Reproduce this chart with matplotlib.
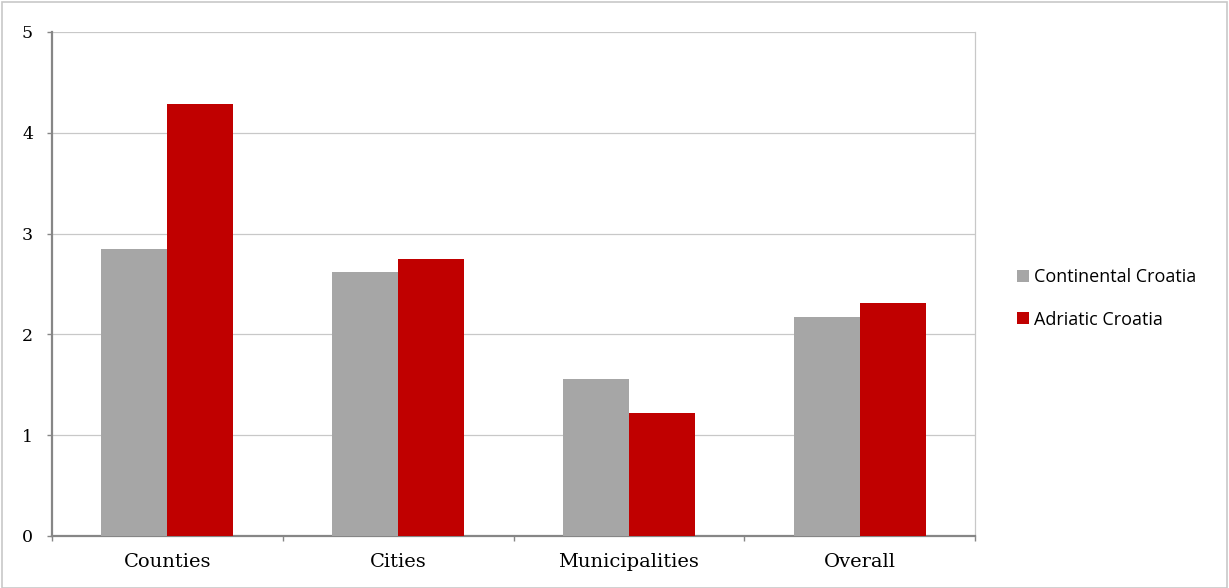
import matplotlib
matplotlib.use("Agg")
import matplotlib.pyplot as plt
from matplotlib.patches import Rectangle
import numpy as np

categories = ["Counties", "Cities", "Municipalities", "Overall"]
continental = [2.85, 2.62, 1.56, 2.17]
adriatic = [4.29, 2.75, 1.22, 2.31]
series_names = ["Continental Croatia", "Adriatic Croatia"]
colors = ["#a6a6a6", "#c00000"]

W, H = 1229, 588
fig = plt.figure(figsize=(W / 100, H / 100), dpi=100)
ax = fig.add_axes([52 / W, (H - 536) / H, (975 - 52) / W, (536 - 32) / H])

x = np.arange(len(categories))
bw = 0.286
ax.bar(x - bw / 2, continental, bw, color=colors[0], label=series_names[0], zorder=3)
ax.bar(x + bw / 2, adriatic, bw, color=colors[1], label=series_names[1], zorder=3)

ax.set_xlim(-0.5, len(categories) - 0.5)
ax.set_ylim(0, 5)
ax.set_yticks(range(6))
ax.set_yticklabels([str(v) for v in range(6)], family="DejaVu Serif", fontsize=12.5)
ax.set_xticks(x)
ax.set_xticklabels(categories, family="DejaVu Serif", fontsize=14)
ax.set_xticks(np.arange(-0.5, len(categories), 1.0), minor=True)
ax.tick_params(axis="x", which="major", length=0, pad=12)
ax.tick_params(axis="x", which="minor", length=3.6, width=1, color="#868686", direction="out")
ax.tick_params(axis="y", length=3.6, width=1, color="#868686", direction="out", pad=10)
ax.grid(axis="y", color="#c8c8c8", linewidth=0.9, zorder=0)
ax.set_axisbelow(True)

for s in ["left", "bottom"]:
    ax.spines[s].set_color("#868686")
    ax.spines[s].set_linewidth(1.6)
ax.spines["top"].set_visible(False)
ax.spines["right"].set_color("#c8c8c8")
ax.spines["right"].set_linewidth(0.9)

leg = fig.legend(loc="upper left", bbox_to_anchor=(1010 / W, 1 - 261 / H),
                 frameon=False, prop={"family": "Open Sans", "size": 13},
                 handlelength=0.65, handleheight=0.65, handletextpad=0.3,
                 labelspacing=1.35, borderaxespad=0)

fig.patches.append(Rectangle((2 / W, 0), (W - 4) / W, (H - 2) / H, transform=fig.transFigure,
                             fill=False, edgecolor="#c8c8c8", linewidth=1.2))

fig.savefig("out.png", dpi=100)
